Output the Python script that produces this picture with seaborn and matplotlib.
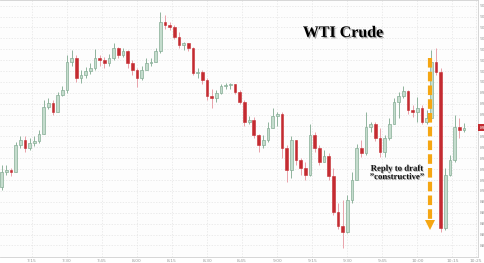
import matplotlib
matplotlib.use("Agg")
import matplotlib.pyplot as plt
import matplotlib.patheffects as pe
import matplotlib.transforms as mtransforms
import numpy as np
import pandas as pd
import seaborn as sns

# ---- data (2-minute candles, WTI crude) ----
start_time = "07:02"
n_candles = 100
opens = [89.04, 89.17, 89.19, 89.17, 89.42, 89.47, 89.39, 89.44, 89.46, 89.52,
         89.77, 89.81, 89.72, 89.88, 89.93, 90.18, 90.22, 90.04, 90.06, 90.10,
         90.13, 90.22, 90.20, 90.17, 90.22, 90.31, 90.25, 90.28, 90.17, 90.11,
         90.04, 90.11, 90.17, 90.18, 90.28, 90.55, 90.52, 90.50, 90.41, 90.34,
         90.36, 90.31, 90.08, 90.09, 90.02, 89.87, 89.85, 89.90, 89.96, 89.97,
         89.98, 89.91, 89.82, 89.63, 89.65, 89.51, 89.42, 89.47, 89.58, 89.69,
         89.71, 89.39, 89.19, 89.47, 89.28, 89.21, 89.15, 89.51, 89.39, 89.27,
         89.32, 89.14, 88.81, 88.68, 88.62, 88.92, 89.10, 89.39, 89.35, 89.59,
         89.61, 89.49, 89.36, 89.49, 89.61, 89.82, 89.87, 89.92, 89.74, 89.72,
         89.76, 89.63, 89.67, 90.18, 90.09, 88.66, 89.15, 89.28, 89.59, 89.56]
highs = [89.24, 89.24, 89.21, 89.45, 89.50, 89.50, 89.49, 89.50, 89.56, 89.83,
         89.85, 89.83, 89.91, 89.96, 90.25, 90.29, 90.25, 90.11, 90.14, 90.17,
         90.30, 90.25, 90.23, 90.26, 90.36, 90.32, 90.31, 90.29, 90.20, 90.13,
         90.15, 90.22, 90.22, 90.31, 90.64, 90.61, 90.55, 90.52, 90.46, 90.37,
         90.36, 90.32, 90.13, 90.11, 90.04, 89.94, 89.93, 89.98, 89.99, 89.99,
         89.98, 89.93, 89.83, 89.69, 89.68, 89.52, 89.51, 89.63, 89.76, 89.72,
         89.72, 89.42, 89.50, 89.47, 89.30, 89.27, 89.61, 89.54, 89.42, 89.38,
         89.35, 89.21, 88.89, 88.92, 88.96, 89.17, 89.43, 89.47, 89.72, 89.63,
         89.63, 89.58, 89.51, 89.67, 89.85, 89.91, 89.96, 89.93, 89.79, 89.86,
         89.79, 89.74, 90.29, 90.31, 90.13, 89.21, 89.33, 89.70, 89.67, 89.62]
lows = [89.01, 89.15, 89.14, 89.17, 89.39, 89.36, 89.38, 89.41, 89.44, 89.52,
        89.75, 89.70, 89.72, 89.87, 89.90, 90.15, 90.00, 89.99, 90.04, 90.07,
        90.11, 90.15, 90.13, 90.15, 90.20, 90.22, 90.23, 90.13, 90.06, 89.95,
        90.02, 90.13, 90.15, 90.18, 90.27, 90.49, 90.48, 90.39, 90.31, 90.29,
        90.28, 90.06, 90.04, 89.98, 89.83, 89.76, 89.82, 89.89, 89.94, 89.94,
        89.89, 89.80, 89.60, 89.61, 89.49, 89.36, 89.39, 89.45, 89.58, 89.60,
        89.30, 89.08, 89.12, 89.24, 89.15, 89.10, 89.14, 89.36, 89.24, 89.27,
        89.10, 88.78, 88.65, 88.48, 88.61, 88.89, 89.10, 89.31, 89.33, 89.54,
        89.46, 89.31, 89.31, 89.47, 89.61, 89.67, 89.85, 89.71, 89.68, 89.63,
        89.61, 89.61, 89.65, 90.06, 88.62, 88.64, 89.14, 89.27, 89.49, 89.54]
closes = [89.17, 89.19, 89.17, 89.42, 89.47, 89.39, 89.44, 89.46, 89.52, 89.77,
          89.81, 89.72, 89.88, 89.93, 90.18, 90.22, 90.04, 90.06, 90.10, 90.13,
          90.22, 90.20, 90.17, 90.22, 90.31, 90.25, 90.28, 90.17, 90.11, 90.04,
          90.11, 90.17, 90.18, 90.28, 90.55, 90.52, 90.50, 90.41, 90.34, 90.36,
          90.31, 90.08, 90.09, 90.02, 89.87, 89.85, 89.90, 89.96, 89.97, 89.98,
          89.91, 89.82, 89.63, 89.65, 89.51, 89.42, 89.47, 89.58, 89.69, 89.71,
          89.39, 89.19, 89.47, 89.28, 89.21, 89.15, 89.51, 89.39, 89.27, 89.32,
          89.14, 88.81, 88.68, 88.62, 88.92, 89.10, 89.39, 89.35, 89.59, 89.61,
          89.49, 89.36, 89.49, 89.61, 89.82, 89.87, 89.92, 89.74, 89.72, 89.76,
          89.63, 89.67, 90.18, 90.09, 88.66, 89.15, 89.28, 89.59, 89.56, 89.58]

x_tick_minutes = [15, 30, 45, 60, 75, 90, 105, 120, 135, 150, 165, 180, 195, 205]
x_tick_labels = ["7:15", "7:30", "7:45", "8:00", "8:15", "8:30", "8:45", "9:00",
                 "9:15", "9:30", "9:45", "10:00", "10:15", "10:25"]
y_ticks = [88.5, 88.6, 88.7, 88.8, 88.9, 89.0, 89.1, 89.2, 89.3, 89.4, 89.5,
           89.6, 89.7, 89.8, 89.9, 90.0, 90.1, 90.2, 90.3, 90.4, 90.5, 90.6, 90.7]
last_price = 89.58
title_text = "WTI Crude"
note_text = "Reply to draft\n\u201dconstructive\u201d"
arrow_time = 185.6          # minutes after 7:00
arrow_top, arrow_tip = 90.22, 88.66

# ---- build frame ----
times = pd.date_range(f"2023-09-01 {start_time}", periods=n_candles, freq="2min")
minutes = (times - pd.Timestamp("2023-09-01 07:00")).total_seconds() / 60.0
df = pd.DataFrame({"t": minutes, "open": opens, "high": highs,
                   "low": lows, "close": closes})
df["up"] = df["close"] >= df["open"]

sns.set_theme(style="whitegrid")
plt.rcParams["font.family"] = ["DejaVu Sans"]

fig = plt.figure(figsize=(4.85, 2.63), dpi=100)
fig.patch.set_facecolor("white")
ax = fig.add_axes([0.0, 0.0228, 0.9856, 0.9772])
ax.set_facecolor("#fdfdfd")

up_fill, up_edge, up_wick = "#c4dccd", "#86ad96", "#8fb39d"
dn_fill, dn_wick = "#c42b31", "#e9a2aa"

up = df[df["up"]]
dn = df[~df["up"]]
ax.vlines(up["t"], up["low"], up["high"], color=up_wick, lw=0.7, zorder=2)
ax.vlines(dn["t"], dn["low"], dn["high"], color=dn_wick, lw=0.7, zorder=2)
bw = 1.15
ax.bar(up["t"], (up["close"] - up["open"]).clip(lower=0.006), bottom=up["open"],
       width=bw, color=up_fill, edgecolor=up_edge, linewidth=0.5, zorder=3)
ax.bar(dn["t"], (dn["open"] - dn["close"]).clip(lower=0.006), bottom=dn["close"],
       width=bw, color=dn_fill, edgecolor=dn_fill, linewidth=0.4, zorder=3)

ax.set_xlim(1.3, 206.0)
ax.set_ylim(88.394, 90.752)

ax.set_xticks(x_tick_minutes)
ax.set_xticklabels(x_tick_labels)
ax.set_yticks(y_ticks)
ax.set_yticklabels([f"{v:g}" for v in y_ticks])
ax.yaxis.tick_right()
ax.tick_params(axis="both", labelsize=3.2, colors="#9a9a9a", length=0, pad=1.5)
ax.tick_params(axis="y", pad=1.2)

ax.grid(True, color="#e4e4e4", lw=0.5, ls=(0, (2, 2)))
for side in ["left"]:
    ax.spines[side].set_visible(False)
for side in ["right", "bottom", "top"]:
    ax.spines[side].set_visible(True)
    ax.spines[side].set_color("#d0d0d0")
    ax.spines[side].set_linewidth(0.6)

# last price marker
trans = mtransforms.blended_transform_factory(ax.transAxes, ax.transData)
ax.text(1.003, last_price, f"{last_price:.2f}", transform=trans, fontsize=3.2,
        color="white", va="center", ha="left", clip_on=False,
        bbox=dict(boxstyle="square,pad=0.35", fc="#c42b31", ec="none"))

# title
ax.text(0.7176, 0.872, title_text, transform=ax.transAxes, ha="center", va="center",
        fontsize=11.5, fontweight="bold", family=["Liberation Serif", "DejaVu Serif"],
        color="black",
        path_effects=[pe.SimplePatchShadow(offset=(1, -1), alpha=0.35), pe.Normal()])

# annotation text
ax.text(0.8305, 0.327, note_text, transform=ax.transAxes, ha="center", va="center",
        fontsize=6.3, fontweight="bold", family=["Liberation Serif", "DejaVu Serif"],
        color="#111111", linespacing=1.05,
        path_effects=[pe.SimplePatchShadow(offset=(0.6, -0.6), alpha=0.3), pe.Normal()])

# orange dashed arrow
orange = "#f5a612"
ax.plot([arrow_time, arrow_time], [arrow_top, arrow_tip + 0.07], color=orange,
        lw=3.0, ls=(0, (2.3, 1.0)), solid_capstyle="butt", zorder=5)
ax.plot([arrow_time], [arrow_tip + 0.025], marker="v", markersize=6.5, color=orange,
        markeredgewidth=0, zorder=5)

fig.savefig("out.png", dpi=100)
